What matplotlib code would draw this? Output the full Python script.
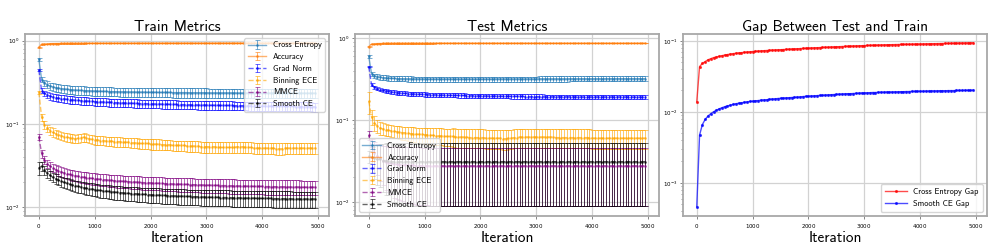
#!/usr/bin/env python3
"""Train / test calibration metrics over training iterations."""

import matplotlib.pyplot as plt
import numpy as np


ITERS = np.arange(0, 5000, 50)

# ---- train split (mean, std over runs) ----
TRAIN_CE = [
    0.596, 0.340, 0.310, 0.295, 0.285, 0.278, 0.272, 0.268, 0.265, 0.262,
    0.260, 0.258, 0.256, 0.254, 0.253, 0.252, 0.251, 0.250, 0.249, 0.248,
    0.247, 0.246, 0.246, 0.245, 0.245, 0.244, 0.244, 0.243, 0.243, 0.242,
    0.242, 0.242, 0.241, 0.241, 0.241, 0.240, 0.240, 0.240, 0.240, 0.239,
    0.239, 0.239, 0.239, 0.238, 0.238, 0.238, 0.238, 0.238, 0.237, 0.237,
    0.237, 0.237, 0.237, 0.237, 0.236, 0.236, 0.236, 0.236, 0.236, 0.236,
    0.236, 0.235, 0.235, 0.235, 0.235, 0.235, 0.235, 0.235, 0.235, 0.235,
    0.235, 0.234, 0.234, 0.234, 0.234, 0.234, 0.234, 0.234, 0.234, 0.234,
    0.234, 0.234, 0.234, 0.234, 0.234, 0.234, 0.233, 0.233, 0.233, 0.233,
    0.233, 0.233, 0.233, 0.233, 0.233, 0.233, 0.233, 0.233, 0.233, 0.233,
]
TRAIN_CE_STD = [
    0.020, 0.025, 0.027, 0.028, 0.028, 0.029, 0.029, 0.029, 0.030, 0.030,
    0.030, 0.030, 0.030, 0.030, 0.030, 0.030, 0.030, 0.030, 0.030, 0.030,
    0.030, 0.030, 0.030, 0.030, 0.030, 0.030, 0.030, 0.030, 0.030, 0.030,
    0.030, 0.030, 0.030, 0.030, 0.030, 0.030, 0.030, 0.030, 0.030, 0.030,
    0.030, 0.030, 0.030, 0.030, 0.030, 0.030, 0.030, 0.030, 0.030, 0.030,
    0.030, 0.030, 0.030, 0.030, 0.030, 0.030, 0.030, 0.030, 0.030, 0.030,
    0.030, 0.030, 0.030, 0.030, 0.030, 0.030, 0.030, 0.030, 0.030, 0.030,
    0.030, 0.030, 0.030, 0.030, 0.030, 0.030, 0.030, 0.030, 0.030, 0.030,
    0.030, 0.030, 0.030, 0.030, 0.030, 0.030, 0.030, 0.030, 0.030, 0.030,
    0.030, 0.030, 0.030, 0.030, 0.030, 0.030, 0.030, 0.030, 0.030, 0.030,
]
TRAIN_ACC = [
    0.830, 0.900, 0.910, 0.915, 0.918, 0.920, 0.921, 0.922, 0.923, 0.924,
    0.925, 0.925, 0.926, 0.926, 0.927, 0.927, 0.927, 0.928, 0.928, 0.928,
    0.928, 0.928, 0.929, 0.929, 0.929, 0.929, 0.929, 0.929, 0.930, 0.930,
    0.930, 0.930, 0.930, 0.930, 0.930, 0.930, 0.931, 0.931, 0.931, 0.931,
    0.931, 0.931, 0.931, 0.931, 0.931, 0.931, 0.932, 0.932, 0.932, 0.932,
    0.932, 0.932, 0.932, 0.932, 0.932, 0.932, 0.932, 0.932, 0.932, 0.932,
    0.932, 0.932, 0.932, 0.932, 0.933, 0.933, 0.933, 0.933, 0.933, 0.933,
    0.933, 0.933, 0.933, 0.933, 0.933, 0.933, 0.933, 0.933, 0.933, 0.933,
    0.933, 0.933, 0.933, 0.933, 0.933, 0.933, 0.933, 0.933, 0.933, 0.933,
    0.933, 0.933, 0.933, 0.933, 0.933, 0.934, 0.934, 0.934, 0.934, 0.934,
]
TRAIN_ACC_STD = [
    0.008, 0.006, 0.005, 0.005, 0.005, 0.005, 0.005, 0.005, 0.005, 0.005,
    0.005, 0.005, 0.005, 0.005, 0.005, 0.005, 0.005, 0.005, 0.005, 0.005,
    0.005, 0.005, 0.005, 0.005, 0.005, 0.005, 0.005, 0.005, 0.005, 0.005,
    0.005, 0.005, 0.005, 0.005, 0.005, 0.005, 0.005, 0.005, 0.005, 0.005,
    0.005, 0.005, 0.005, 0.005, 0.005, 0.005, 0.005, 0.005, 0.005, 0.005,
    0.005, 0.005, 0.005, 0.005, 0.005, 0.005, 0.005, 0.005, 0.005, 0.005,
    0.005, 0.005, 0.005, 0.005, 0.005, 0.005, 0.005, 0.005, 0.005, 0.005,
    0.005, 0.005, 0.005, 0.005, 0.005, 0.005, 0.005, 0.005, 0.005, 0.005,
    0.005, 0.005, 0.005, 0.005, 0.005, 0.005, 0.005, 0.005, 0.005, 0.005,
    0.005, 0.005, 0.005, 0.005, 0.005, 0.005, 0.005, 0.005, 0.005, 0.005,
]
TRAIN_GRAD = [
    0.443, 0.250, 0.232, 0.222, 0.215, 0.210, 0.206, 0.203, 0.201, 0.199,
    0.197, 0.195, 0.194, 0.192, 0.191, 0.190, 0.189, 0.188, 0.187, 0.186,
    0.185, 0.184, 0.183, 0.183, 0.182, 0.181, 0.181, 0.180, 0.179, 0.179,
    0.178, 0.178, 0.177, 0.177, 0.176, 0.176, 0.175, 0.175, 0.175, 0.174,
    0.174, 0.173, 0.173, 0.173, 0.172, 0.172, 0.172, 0.171, 0.171, 0.171,
    0.170, 0.170, 0.170, 0.169, 0.169, 0.169, 0.169, 0.168, 0.168, 0.168,
    0.168, 0.167, 0.167, 0.167, 0.167, 0.166, 0.166, 0.166, 0.166, 0.166,
    0.165, 0.165, 0.165, 0.165, 0.165, 0.164, 0.164, 0.164, 0.164, 0.164,
    0.163, 0.163, 0.163, 0.163, 0.163, 0.163, 0.162, 0.162, 0.162, 0.162,
    0.162, 0.162, 0.161, 0.161, 0.161, 0.161, 0.161, 0.161, 0.160, 0.160,
]
TRAIN_GRAD_STD = [
    0.010, 0.018, 0.019, 0.019, 0.020, 0.020, 0.020, 0.020, 0.020, 0.020,
    0.020, 0.020, 0.020, 0.020, 0.020, 0.020, 0.020, 0.020, 0.020, 0.020,
    0.020, 0.020, 0.020, 0.020, 0.020, 0.020, 0.020, 0.020, 0.020, 0.020,
    0.020, 0.020, 0.020, 0.020, 0.020, 0.020, 0.020, 0.020, 0.020, 0.020,
    0.020, 0.020, 0.020, 0.020, 0.020, 0.020, 0.020, 0.020, 0.020, 0.020,
    0.020, 0.020, 0.020, 0.020, 0.020, 0.020, 0.020, 0.020, 0.020, 0.020,
    0.020, 0.020, 0.020, 0.020, 0.020, 0.020, 0.020, 0.020, 0.020, 0.020,
    0.020, 0.020, 0.020, 0.020, 0.020, 0.020, 0.020, 0.020, 0.020, 0.020,
    0.020, 0.020, 0.020, 0.020, 0.020, 0.020, 0.020, 0.020, 0.020, 0.020,
    0.020, 0.020, 0.020, 0.020, 0.020, 0.020, 0.020, 0.020, 0.020, 0.020,
]
TRAIN_ECE = [
    0.240, 0.120, 0.097, 0.089, 0.083, 0.079, 0.076, 0.074, 0.072, 0.070,
    0.069, 0.068, 0.067, 0.066, 0.067, 0.068, 0.069, 0.068, 0.066, 0.065,
    0.064, 0.064, 0.063, 0.063, 0.062, 0.062, 0.062, 0.061, 0.061, 0.061,
    0.060, 0.060, 0.060, 0.059, 0.059, 0.059, 0.058, 0.058, 0.058, 0.058,
    0.057, 0.057, 0.057, 0.057, 0.056, 0.056, 0.056, 0.056, 0.055, 0.055,
    0.055, 0.055, 0.055, 0.054, 0.054, 0.054, 0.054, 0.054, 0.053, 0.053,
    0.053, 0.053, 0.053, 0.053, 0.052, 0.052, 0.052, 0.052, 0.052, 0.052,
    0.052, 0.053, 0.053, 0.053, 0.052, 0.052, 0.052, 0.051, 0.051, 0.051,
    0.051, 0.051, 0.051, 0.051, 0.051, 0.050, 0.050, 0.050, 0.051, 0.051,
    0.051, 0.051, 0.051, 0.051, 0.051, 0.051, 0.051, 0.051, 0.051, 0.051,
]
TRAIN_ECE_STD = [
    0.010, 0.012, 0.010, 0.009, 0.009, 0.009, 0.009, 0.008, 0.008, 0.008,
    0.008, 0.008, 0.008, 0.008, 0.008, 0.008, 0.008, 0.008, 0.008, 0.008,
    0.008, 0.008, 0.008, 0.008, 0.008, 0.008, 0.008, 0.008, 0.008, 0.008,
    0.008, 0.008, 0.008, 0.008, 0.008, 0.008, 0.008, 0.008, 0.008, 0.008,
    0.008, 0.008, 0.008, 0.008, 0.008, 0.008, 0.008, 0.008, 0.008, 0.008,
    0.008, 0.008, 0.008, 0.008, 0.008, 0.008, 0.008, 0.008, 0.008, 0.008,
    0.008, 0.008, 0.008, 0.008, 0.008, 0.008, 0.008, 0.008, 0.008, 0.008,
    0.008, 0.008, 0.008, 0.008, 0.008, 0.008, 0.008, 0.008, 0.008, 0.008,
    0.008, 0.008, 0.008, 0.008, 0.008, 0.008, 0.008, 0.008, 0.008, 0.008,
    0.008, 0.008, 0.008, 0.008, 0.008, 0.008, 0.008, 0.008, 0.008, 0.008,
]
TRAIN_MMCE = [
    0.0700, 0.0440, 0.0365, 0.0330, 0.0310, 0.0295, 0.0282, 0.0272, 0.0264, 0.0257,
    0.0251, 0.0246, 0.0242, 0.0238, 0.0234, 0.0231, 0.0228, 0.0226, 0.0223, 0.0221,
    0.0219, 0.0217, 0.0215, 0.0213, 0.0212, 0.0210, 0.0209, 0.0207, 0.0206, 0.0205,
    0.0204, 0.0203, 0.0202, 0.0201, 0.0200, 0.0199, 0.0198, 0.0197, 0.0196, 0.0196,
    0.0195, 0.0194, 0.0193, 0.0193, 0.0192, 0.0191, 0.0191, 0.0190, 0.0189, 0.0189,
    0.0188, 0.0188, 0.0187, 0.0187, 0.0186, 0.0186, 0.0185, 0.0185, 0.0184, 0.0184,
    0.0183, 0.0183, 0.0183, 0.0182, 0.0182, 0.0181, 0.0181, 0.0181, 0.0180, 0.0180,
    0.0180, 0.0179, 0.0179, 0.0179, 0.0178, 0.0178, 0.0178, 0.0177, 0.0177, 0.0177,
    0.0177, 0.0176, 0.0176, 0.0176, 0.0176, 0.0175, 0.0175, 0.0175, 0.0175, 0.0174,
    0.0174, 0.0174, 0.0174, 0.0174, 0.0173, 0.0173, 0.0173, 0.0173, 0.0173, 0.0173,
]
TRAIN_MMCE_STD = [
    0.0060, 0.0050, 0.0040, 0.0038, 0.0036, 0.0035, 0.0035, 0.0035, 0.0035, 0.0035,
    0.0035, 0.0035, 0.0035, 0.0035, 0.0035, 0.0035, 0.0035, 0.0035, 0.0035, 0.0035,
    0.0035, 0.0035, 0.0035, 0.0035, 0.0035, 0.0035, 0.0035, 0.0035, 0.0035, 0.0035,
    0.0035, 0.0035, 0.0035, 0.0035, 0.0035, 0.0035, 0.0035, 0.0035, 0.0035, 0.0035,
    0.0035, 0.0035, 0.0035, 0.0035, 0.0035, 0.0035, 0.0035, 0.0035, 0.0035, 0.0035,
    0.0035, 0.0035, 0.0035, 0.0035, 0.0035, 0.0035, 0.0035, 0.0035, 0.0035, 0.0035,
    0.0035, 0.0035, 0.0035, 0.0035, 0.0035, 0.0035, 0.0035, 0.0035, 0.0035, 0.0035,
    0.0035, 0.0035, 0.0035, 0.0035, 0.0035, 0.0035, 0.0035, 0.0035, 0.0035, 0.0035,
    0.0035, 0.0035, 0.0035, 0.0035, 0.0035, 0.0035, 0.0035, 0.0035, 0.0035, 0.0035,
    0.0035, 0.0035, 0.0035, 0.0035, 0.0035, 0.0035, 0.0035, 0.0035, 0.0035, 0.0035,
]
TRAIN_SCE = [
    0.0295, 0.0310, 0.0275, 0.0255, 0.0240, 0.0228, 0.0219, 0.0211, 0.0204, 0.0198,
    0.0193, 0.0188, 0.0184, 0.0180, 0.0177, 0.0174, 0.0171, 0.0168, 0.0166, 0.0164,
    0.0162, 0.0160, 0.0158, 0.0157, 0.0155, 0.0154, 0.0153, 0.0151, 0.0150, 0.0149,
    0.0148, 0.0147, 0.0146, 0.0145, 0.0145, 0.0144, 0.0143, 0.0142, 0.0142, 0.0141,
    0.0140, 0.0140, 0.0139, 0.0139, 0.0138, 0.0138, 0.0137, 0.0137, 0.0136, 0.0136,
    0.0135, 0.0135, 0.0135, 0.0134, 0.0134, 0.0133, 0.0133, 0.0133, 0.0132, 0.0132,
    0.0132, 0.0131, 0.0131, 0.0131, 0.0131, 0.0130, 0.0130, 0.0130, 0.0130, 0.0129,
    0.0129, 0.0129, 0.0129, 0.0128, 0.0128, 0.0128, 0.0128, 0.0128, 0.0127, 0.0127,
    0.0127, 0.0127, 0.0127, 0.0127, 0.0126, 0.0126, 0.0126, 0.0126, 0.0126, 0.0126,
    0.0126, 0.0125, 0.0125, 0.0125, 0.0125, 0.0125, 0.0125, 0.0125, 0.0125, 0.0125,
]
TRAIN_SCE_STD = [
    0.0050, 0.0040, 0.0032, 0.0030, 0.0029, 0.0028, 0.0028, 0.0028, 0.0028, 0.0028,
    0.0028, 0.0028, 0.0028, 0.0028, 0.0028, 0.0028, 0.0028, 0.0028, 0.0028, 0.0028,
    0.0028, 0.0028, 0.0028, 0.0028, 0.0028, 0.0028, 0.0028, 0.0028, 0.0028, 0.0028,
    0.0028, 0.0028, 0.0028, 0.0028, 0.0028, 0.0028, 0.0028, 0.0028, 0.0028, 0.0028,
    0.0028, 0.0028, 0.0028, 0.0028, 0.0028, 0.0028, 0.0028, 0.0028, 0.0028, 0.0028,
    0.0028, 0.0028, 0.0028, 0.0028, 0.0028, 0.0028, 0.0028, 0.0028, 0.0028, 0.0028,
    0.0028, 0.0028, 0.0028, 0.0028, 0.0028, 0.0028, 0.0028, 0.0028, 0.0028, 0.0028,
    0.0028, 0.0028, 0.0028, 0.0028, 0.0028, 0.0028, 0.0028, 0.0028, 0.0028, 0.0028,
    0.0028, 0.0028, 0.0028, 0.0028, 0.0028, 0.0028, 0.0028, 0.0028, 0.0028, 0.0028,
    0.0028, 0.0028, 0.0028, 0.0028, 0.0028, 0.0028, 0.0028, 0.0028, 0.0028, 0.0028,
]

# ---- test split ----
TEST_CE = [
    0.600, 0.370, 0.350, 0.340, 0.335, 0.331, 0.328, 0.326, 0.324, 0.323,
    0.322, 0.321, 0.320, 0.320, 0.319, 0.319, 0.318, 0.318, 0.318, 0.318,
    0.318, 0.317, 0.317, 0.317, 0.317, 0.317, 0.317, 0.317, 0.317, 0.317,
    0.317, 0.317, 0.317, 0.317, 0.317, 0.317, 0.317, 0.317, 0.317, 0.317,
    0.317, 0.317, 0.317, 0.317, 0.317, 0.318, 0.318, 0.318, 0.318, 0.318,
    0.318, 0.318, 0.318, 0.318, 0.318, 0.318, 0.318, 0.318, 0.318, 0.318,
    0.318, 0.319, 0.319, 0.319, 0.319, 0.319, 0.319, 0.319, 0.319, 0.319,
    0.319, 0.319, 0.320, 0.320, 0.320, 0.320, 0.320, 0.320, 0.320, 0.320,
    0.320, 0.320, 0.320, 0.320, 0.320, 0.321, 0.321, 0.321, 0.321, 0.321,
    0.321, 0.321, 0.321, 0.321, 0.321, 0.321, 0.321, 0.321, 0.321, 0.321,
]
TEST_CE_STD = [
    0.020, 0.020, 0.021, 0.022, 0.022, 0.022, 0.023, 0.023, 0.023, 0.023,
    0.023, 0.023, 0.023, 0.023, 0.023, 0.023, 0.023, 0.023, 0.023, 0.023,
    0.023, 0.023, 0.023, 0.023, 0.023, 0.023, 0.023, 0.023, 0.023, 0.023,
    0.023, 0.023, 0.023, 0.023, 0.023, 0.023, 0.023, 0.023, 0.023, 0.023,
    0.023, 0.023, 0.023, 0.023, 0.023, 0.023, 0.023, 0.023, 0.023, 0.023,
    0.023, 0.023, 0.023, 0.023, 0.023, 0.023, 0.023, 0.023, 0.023, 0.023,
    0.023, 0.023, 0.023, 0.023, 0.023, 0.023, 0.023, 0.023, 0.023, 0.023,
    0.023, 0.023, 0.023, 0.023, 0.023, 0.023, 0.023, 0.023, 0.023, 0.023,
    0.023, 0.023, 0.023, 0.023, 0.023, 0.023, 0.023, 0.023, 0.023, 0.023,
    0.023, 0.023, 0.023, 0.023, 0.023, 0.023, 0.023, 0.023, 0.023, 0.023,
]
TEST_ACC = [
    0.790, 0.850, 0.858, 0.862, 0.864, 0.865, 0.866, 0.867, 0.867, 0.868,
    0.868, 0.868, 0.868, 0.869, 0.869, 0.869, 0.869, 0.869, 0.869, 0.869,
    0.869, 0.869, 0.869, 0.869, 0.870, 0.870, 0.870, 0.870, 0.870, 0.870,
    0.870, 0.870, 0.870, 0.870, 0.870, 0.870, 0.870, 0.870, 0.870, 0.870,
    0.870, 0.870, 0.870, 0.870, 0.870, 0.870, 0.870, 0.870, 0.870, 0.870,
    0.870, 0.870, 0.870, 0.870, 0.870, 0.870, 0.870, 0.870, 0.870, 0.870,
    0.870, 0.870, 0.870, 0.870, 0.870, 0.870, 0.870, 0.870, 0.870, 0.870,
    0.870, 0.870, 0.870, 0.870, 0.870, 0.870, 0.870, 0.870, 0.870, 0.870,
    0.870, 0.870, 0.870, 0.870, 0.870, 0.870, 0.870, 0.870, 0.870, 0.870,
    0.870, 0.870, 0.870, 0.870, 0.870, 0.870, 0.870, 0.870, 0.870, 0.870,
]
TEST_ACC_STD = [
    0.010, 0.006, 0.005, 0.005, 0.005, 0.005, 0.005, 0.005, 0.005, 0.005,
    0.005, 0.005, 0.005, 0.005, 0.005, 0.005, 0.005, 0.005, 0.005, 0.005,
    0.005, 0.005, 0.005, 0.005, 0.005, 0.005, 0.005, 0.005, 0.005, 0.005,
    0.005, 0.005, 0.005, 0.005, 0.005, 0.005, 0.005, 0.005, 0.005, 0.005,
    0.005, 0.005, 0.005, 0.005, 0.005, 0.005, 0.005, 0.005, 0.005, 0.005,
    0.005, 0.005, 0.005, 0.005, 0.005, 0.005, 0.005, 0.005, 0.005, 0.005,
    0.005, 0.005, 0.005, 0.005, 0.005, 0.005, 0.005, 0.005, 0.005, 0.005,
    0.005, 0.005, 0.005, 0.005, 0.005, 0.005, 0.005, 0.005, 0.005, 0.005,
    0.005, 0.005, 0.005, 0.005, 0.005, 0.005, 0.005, 0.005, 0.005, 0.005,
    0.005, 0.005, 0.005, 0.005, 0.005, 0.005, 0.005, 0.005, 0.005, 0.005,
]
TEST_GRAD = [
    0.450, 0.270, 0.252, 0.243, 0.236, 0.231, 0.227, 0.224, 0.221, 0.219,
    0.217, 0.215, 0.214, 0.212, 0.211, 0.210, 0.209, 0.208, 0.207, 0.207,
    0.206, 0.205, 0.205, 0.204, 0.204, 0.203, 0.203, 0.202, 0.202, 0.201,
    0.201, 0.201, 0.200, 0.200, 0.200, 0.199, 0.199, 0.199, 0.198, 0.198,
    0.198, 0.198, 0.197, 0.197, 0.197, 0.197, 0.196, 0.196, 0.196, 0.196,
    0.196, 0.195, 0.195, 0.195, 0.195, 0.195, 0.194, 0.194, 0.194, 0.194,
    0.194, 0.194, 0.194, 0.193, 0.193, 0.193, 0.193, 0.193, 0.193, 0.193,
    0.193, 0.193, 0.193, 0.193, 0.192, 0.192, 0.192, 0.192, 0.192, 0.192,
    0.192, 0.192, 0.192, 0.192, 0.192, 0.192, 0.192, 0.192, 0.192, 0.192,
    0.192, 0.192, 0.192, 0.192, 0.192, 0.191, 0.191, 0.191, 0.191, 0.191,
]
TEST_GRAD_STD = [
    0.010, 0.012, 0.012, 0.012, 0.012, 0.012, 0.012, 0.012, 0.012, 0.012,
    0.012, 0.012, 0.012, 0.012, 0.012, 0.012, 0.012, 0.012, 0.012, 0.012,
    0.012, 0.012, 0.012, 0.012, 0.012, 0.012, 0.012, 0.012, 0.012, 0.012,
    0.012, 0.012, 0.012, 0.012, 0.012, 0.012, 0.012, 0.012, 0.012, 0.012,
    0.012, 0.012, 0.012, 0.012, 0.012, 0.012, 0.012, 0.012, 0.012, 0.012,
    0.012, 0.012, 0.012, 0.012, 0.012, 0.012, 0.012, 0.012, 0.012, 0.012,
    0.012, 0.012, 0.012, 0.012, 0.012, 0.012, 0.012, 0.012, 0.012, 0.012,
    0.012, 0.012, 0.012, 0.012, 0.012, 0.012, 0.012, 0.012, 0.012, 0.012,
    0.012, 0.012, 0.012, 0.012, 0.012, 0.012, 0.012, 0.012, 0.012, 0.012,
    0.012, 0.012, 0.012, 0.012, 0.012, 0.012, 0.012, 0.012, 0.012, 0.012,
]
TEST_ECE = [
    0.170, 0.110, 0.092, 0.085, 0.080, 0.078, 0.076, 0.075, 0.074, 0.073,
    0.072, 0.071, 0.070, 0.070, 0.069, 0.068, 0.068, 0.067, 0.067, 0.067,
    0.066, 0.066, 0.065, 0.065, 0.064, 0.064, 0.064, 0.063, 0.063, 0.063,
    0.063, 0.062, 0.062, 0.062, 0.062, 0.062, 0.061, 0.061, 0.061, 0.061,
    0.061, 0.061, 0.060, 0.060, 0.060, 0.060, 0.060, 0.060, 0.059, 0.059,
    0.060, 0.060, 0.061, 0.061, 0.062, 0.062, 0.062, 0.062, 0.062, 0.062,
    0.062, 0.062, 0.062, 0.062, 0.062, 0.062, 0.062, 0.061, 0.061, 0.061,
    0.061, 0.061, 0.061, 0.061, 0.061, 0.061, 0.061, 0.061, 0.061, 0.061,
    0.060, 0.060, 0.060, 0.060, 0.060, 0.060, 0.060, 0.060, 0.060, 0.060,
    0.060, 0.060, 0.060, 0.060, 0.060, 0.060, 0.060, 0.060, 0.060, 0.060,
]
TEST_ECE_STD = [
    0.050, 0.022, 0.019, 0.016, 0.014, 0.013, 0.013, 0.012, 0.012, 0.012,
    0.012, 0.013, 0.013, 0.013, 0.013, 0.014, 0.014, 0.014, 0.014, 0.014,
    0.015, 0.015, 0.015, 0.015, 0.015, 0.015, 0.015, 0.015, 0.015, 0.015,
    0.016, 0.016, 0.016, 0.016, 0.016, 0.016, 0.016, 0.016, 0.016, 0.016,
    0.016, 0.016, 0.016, 0.016, 0.016, 0.016, 0.016, 0.016, 0.016, 0.016,
    0.016, 0.016, 0.016, 0.016, 0.016, 0.016, 0.016, 0.016, 0.016, 0.016,
    0.016, 0.016, 0.016, 0.016, 0.016, 0.016, 0.016, 0.016, 0.016, 0.016,
    0.016, 0.016, 0.016, 0.016, 0.016, 0.016, 0.016, 0.016, 0.016, 0.016,
    0.016, 0.016, 0.016, 0.016, 0.016, 0.016, 0.016, 0.016, 0.016, 0.016,
    0.016, 0.016, 0.016, 0.016, 0.016, 0.016, 0.016, 0.016, 0.016, 0.016,
]
TEST_MMCE = [
    0.0650, 0.0460, 0.0400, 0.0360, 0.0340, 0.0320, 0.0310, 0.0300, 0.0295, 0.0290,
    0.0287, 0.0285, 0.0283, 0.0281, 0.0280, 0.0279, 0.0278, 0.0277, 0.0277, 0.0276,
    0.0276, 0.0276, 0.0275, 0.0275, 0.0275, 0.0275, 0.0275, 0.0275, 0.0275, 0.0275,
    0.0275, 0.0275, 0.0275, 0.0275, 0.0275, 0.0275, 0.0275, 0.0275, 0.0275, 0.0275,
    0.0275, 0.0275, 0.0275, 0.0275, 0.0275, 0.0275, 0.0275, 0.0275, 0.0275, 0.0275,
    0.0275, 0.0275, 0.0275, 0.0275, 0.0275, 0.0275, 0.0275, 0.0275, 0.0275, 0.0275,
    0.0275, 0.0275, 0.0275, 0.0275, 0.0275, 0.0275, 0.0275, 0.0275, 0.0275, 0.0275,
    0.0275, 0.0275, 0.0275, 0.0275, 0.0275, 0.0275, 0.0275, 0.0275, 0.0275, 0.0275,
    0.0275, 0.0275, 0.0275, 0.0275, 0.0275, 0.0275, 0.0275, 0.0275, 0.0275, 0.0275,
    0.0275, 0.0275, 0.0275, 0.0275, 0.0275, 0.0275, 0.0275, 0.0275, 0.0275, 0.0275,
]
TEST_MMCE_STD = [
    0.0080, 0.0120, 0.0140, 0.0150, 0.0160, 0.0160, 0.0170, 0.0170, 0.0170, 0.0180,
    0.0180, 0.0180, 0.0180, 0.0183, 0.0183, 0.0183, 0.0185, 0.0185, 0.0185, 0.0185,
    0.0185, 0.0185, 0.0185, 0.0185, 0.0185, 0.0185, 0.0185, 0.0185, 0.0185, 0.0185,
    0.0185, 0.0185, 0.0185, 0.0185, 0.0185, 0.0185, 0.0185, 0.0185, 0.0185, 0.0185,
    0.0185, 0.0185, 0.0185, 0.0185, 0.0185, 0.0185, 0.0185, 0.0185, 0.0185, 0.0185,
    0.0185, 0.0185, 0.0185, 0.0185, 0.0185, 0.0185, 0.0185, 0.0185, 0.0185, 0.0185,
    0.0185, 0.0185, 0.0185, 0.0185, 0.0185, 0.0185, 0.0185, 0.0185, 0.0185, 0.0185,
    0.0185, 0.0185, 0.0185, 0.0185, 0.0185, 0.0185, 0.0185, 0.0185, 0.0185, 0.0185,
    0.0185, 0.0185, 0.0185, 0.0185, 0.0185, 0.0185, 0.0185, 0.0185, 0.0185, 0.0185,
    0.0185, 0.0185, 0.0185, 0.0185, 0.0185, 0.0185, 0.0185, 0.0185, 0.0185, 0.0185,
]
TEST_SCE = [
    0.0360, 0.0350, 0.0340, 0.0330, 0.0330, 0.0320, 0.0320, 0.0320, 0.0310, 0.0310,
    0.0310, 0.0310, 0.0310, 0.0310, 0.0310, 0.0310, 0.0310, 0.0310, 0.0310, 0.0310,
    0.0310, 0.0310, 0.0310, 0.0310, 0.0310, 0.0310, 0.0310, 0.0310, 0.0310, 0.0310,
    0.0310, 0.0310, 0.0310, 0.0310, 0.0310, 0.0310, 0.0310, 0.0310, 0.0310, 0.0310,
    0.0310, 0.0310, 0.0310, 0.0310, 0.0310, 0.0310, 0.0310, 0.0310, 0.0310, 0.0310,
    0.0310, 0.0310, 0.0310, 0.0310, 0.0310, 0.0310, 0.0310, 0.0310, 0.0310, 0.0310,
    0.0310, 0.0310, 0.0310, 0.0310, 0.0310, 0.0310, 0.0310, 0.0310, 0.0310, 0.0310,
    0.0310, 0.0310, 0.0310, 0.0310, 0.0310, 0.0310, 0.0310, 0.0310, 0.0310, 0.0310,
    0.0310, 0.0310, 0.0310, 0.0310, 0.0310, 0.0310, 0.0310, 0.0310, 0.0310, 0.0310,
    0.0310, 0.0310, 0.0310, 0.0310, 0.0310, 0.0310, 0.0310, 0.0310, 0.0310, 0.0310,
]
TEST_SCE_STD = [
    0.0060, 0.0120, 0.0150, 0.0170, 0.0180, 0.0190, 0.0200, 0.0200, 0.0210, 0.0210,
    0.0215, 0.0215, 0.0218, 0.0218, 0.0220, 0.0220, 0.0220, 0.0220, 0.0220, 0.0220,
    0.0220, 0.0220, 0.0220, 0.0220, 0.0220, 0.0220, 0.0220, 0.0220, 0.0220, 0.0220,
    0.0220, 0.0220, 0.0220, 0.0220, 0.0220, 0.0220, 0.0220, 0.0220, 0.0220, 0.0220,
    0.0220, 0.0220, 0.0220, 0.0220, 0.0220, 0.0220, 0.0220, 0.0220, 0.0220, 0.0220,
    0.0220, 0.0220, 0.0220, 0.0220, 0.0220, 0.0220, 0.0220, 0.0220, 0.0220, 0.0220,
    0.0220, 0.0220, 0.0220, 0.0220, 0.0220, 0.0220, 0.0220, 0.0220, 0.0220, 0.0220,
    0.0220, 0.0220, 0.0220, 0.0220, 0.0220, 0.0220, 0.0220, 0.0220, 0.0220, 0.0220,
    0.0220, 0.0220, 0.0220, 0.0220, 0.0220, 0.0220, 0.0220, 0.0220, 0.0220, 0.0220,
    0.0220, 0.0220, 0.0220, 0.0220, 0.0220, 0.0220, 0.0220, 0.0220, 0.0220, 0.0220,
]

# ---- test - train gap ----
GAP_CE = [
    0.0139, 0.0434, 0.0480, 0.0510, 0.0540, 0.0560, 0.0580, 0.0593, 0.0605, 0.0618,
    0.0630, 0.0641, 0.0651, 0.0660, 0.0668, 0.0675, 0.0682, 0.0689, 0.0695, 0.0701,
    0.0707, 0.0712, 0.0717, 0.0722, 0.0727, 0.0731, 0.0735, 0.0739, 0.0743, 0.0747,
    0.0750, 0.0754, 0.0758, 0.0762, 0.0766, 0.0770, 0.0774, 0.0778, 0.0782, 0.0786,
    0.0790, 0.0793, 0.0797, 0.0800, 0.0804, 0.0807, 0.0811, 0.0814, 0.0818, 0.0821,
    0.0825, 0.0828, 0.0832, 0.0835, 0.0838, 0.0842, 0.0845, 0.0848, 0.0851, 0.0855,
    0.0858, 0.0861, 0.0864, 0.0866, 0.0869, 0.0872, 0.0874, 0.0877, 0.0879, 0.0882,
    0.0884, 0.0886, 0.0888, 0.0890, 0.0892, 0.0894, 0.0895, 0.0897, 0.0899, 0.0900,
    0.0902, 0.0904, 0.0906, 0.0908, 0.0910, 0.0912, 0.0914, 0.0916, 0.0918, 0.0920,
    0.0922, 0.0924, 0.0926, 0.0928, 0.0930, 0.0931, 0.0933, 0.0935, 0.0937, 0.0939,
]
GAP_SCE = [
    0.00046, 0.0047, 0.0066, 0.0078, 0.0087, 0.0094, 0.0100, 0.0105, 0.0110, 0.0114,
    0.0118, 0.0121, 0.0124, 0.0127, 0.0130, 0.0132, 0.0134, 0.0136, 0.0138, 0.0140,
    0.0141, 0.0143, 0.0144, 0.0146, 0.0147, 0.0148, 0.0150, 0.0151, 0.0152, 0.0154,
    0.0155, 0.0156, 0.0157, 0.0158, 0.0159, 0.0160, 0.0161, 0.0162, 0.0164, 0.0165,
    0.0166, 0.0167, 0.0168, 0.0169, 0.0170, 0.0171, 0.0172, 0.0173, 0.0174, 0.0175,
    0.0176, 0.0177, 0.0178, 0.0179, 0.0180, 0.0180, 0.0181, 0.0182, 0.0183, 0.0184,
    0.0185, 0.0185, 0.0186, 0.0187, 0.0187, 0.0188, 0.0189, 0.0189, 0.0190, 0.0190,
    0.0190, 0.0191, 0.0191, 0.0192, 0.0192, 0.0193, 0.0193, 0.0194, 0.0194, 0.0195,
    0.0195, 0.0195, 0.0196, 0.0196, 0.0197, 0.0197, 0.0197, 0.0198, 0.0198, 0.0198,
    0.0199, 0.0199, 0.0199, 0.0200, 0.0200, 0.0200, 0.0201, 0.0201, 0.0201, 0.0202,
]

LABELS = ["Cross Entropy", "Accuracy", "Grad Norm", "Binning ECE", "MMCE", "Smooth CE"]
STYLES = [
    ("tab:blue", "-"),
    ("tab:orange", "-"),
    ("blue", "--"),
    ("orange", "--"),
    ("purple", "--"),
    ("black", "--"),
]

SANS = "cmss10"


def style_axis(ax):
    ax.set_yscale("log")
    for spine in ax.spines.values():
        spine.set_color("#a8a8a8")
        spine.set_linewidth(1.3)
    ax.grid(True, which="major", color="#d2d2d2", linewidth=0.9)
    ax.tick_params(which="major", labelsize=4, length=2.5, width=0.5, pad=1.5,
                   color="#555555")
    ax.tick_params(which="minor", length=1.3, width=0.4, color="#555555")
    ax.set_xlabel("Iteration", fontsize=11, family=SANS, labelpad=1)


def metric_panel(ax, title, series, legend_loc):
    for (mean, std), label, (color, ls) in zip(series, LABELS, STYLES):
        ax.errorbar(
            ITERS, mean, yerr=std,
            fmt=".", linestyle=ls, color=color,
            markersize=2, linewidth=1.0, elinewidth=0.7,
            capsize=1.8, capthick=0.7, alpha=0.6, label=label,
        )
    style_axis(ax)
    ax.set_title(title, fontsize=11, family=SANS, pad=2)
    ax.legend(loc=legend_loc, prop={"family": SANS, "size": 6},
              handlelength=2.2, labelspacing=0.45, borderpad=0.4)


def main() -> None:
    plt.rcParams.update({
        "mathtext.fontset": "cm",
        "axes.unicode_minus": False,
        "axes.formatter.use_mathtext": True,
    })

    fig = plt.figure(figsize=(9.97, 2.49), dpi=100)
    bottom, height = 0.1325, 0.731
    ax1 = fig.add_axes([0.0251, bottom, 0.305, height])
    ax2 = fig.add_axes([0.356, bottom, 0.305, height])
    ax3 = fig.add_axes([0.685, bottom, 0.305, height])

    metric_panel(
        ax1, "Train Metrics",
        [(TRAIN_CE, TRAIN_CE_STD), (TRAIN_ACC, TRAIN_ACC_STD),
         (TRAIN_GRAD, TRAIN_GRAD_STD), (TRAIN_ECE, TRAIN_ECE_STD),
         (TRAIN_MMCE, TRAIN_MMCE_STD), (TRAIN_SCE, TRAIN_SCE_STD)],
        "upper right",
    )
    ax1.set_ylim(0.0078, 1.2)

    metric_panel(
        ax2, "Test Metrics",
        [(TEST_CE, TEST_CE_STD), (TEST_ACC, TEST_ACC_STD),
         (TEST_GRAD, TEST_GRAD_STD), (TEST_ECE, TEST_ECE_STD),
         (TEST_MMCE, TEST_MMCE_STD), (TEST_SCE, TEST_SCE_STD)],
        "lower left",
    )
    ax2.set_ylim(0.0067, 1.13)

    ax3.plot(ITERS, GAP_CE, ".-", color="red", markersize=2.5, linewidth=1.0,
             alpha=0.7, label="Cross Entropy Gap")
    ax3.plot(ITERS, GAP_SCE, ".-", color="blue", markersize=2.5, linewidth=1.0,
             alpha=0.7, label="Smooth CE Gap")
    style_axis(ax3)
    ax3.set_ylim(0.00034, 0.125)
    ax3.set_title("Gap Between Test and Train", fontsize=11, family=SANS, pad=2)
    ax3.legend(loc="lower right", prop={"family": SANS, "size": 6},
               handlelength=2.6, labelspacing=0.4, borderpad=0.5)

    fig.savefig("out.png", dpi=100)


if __name__ == "__main__":
    main()
